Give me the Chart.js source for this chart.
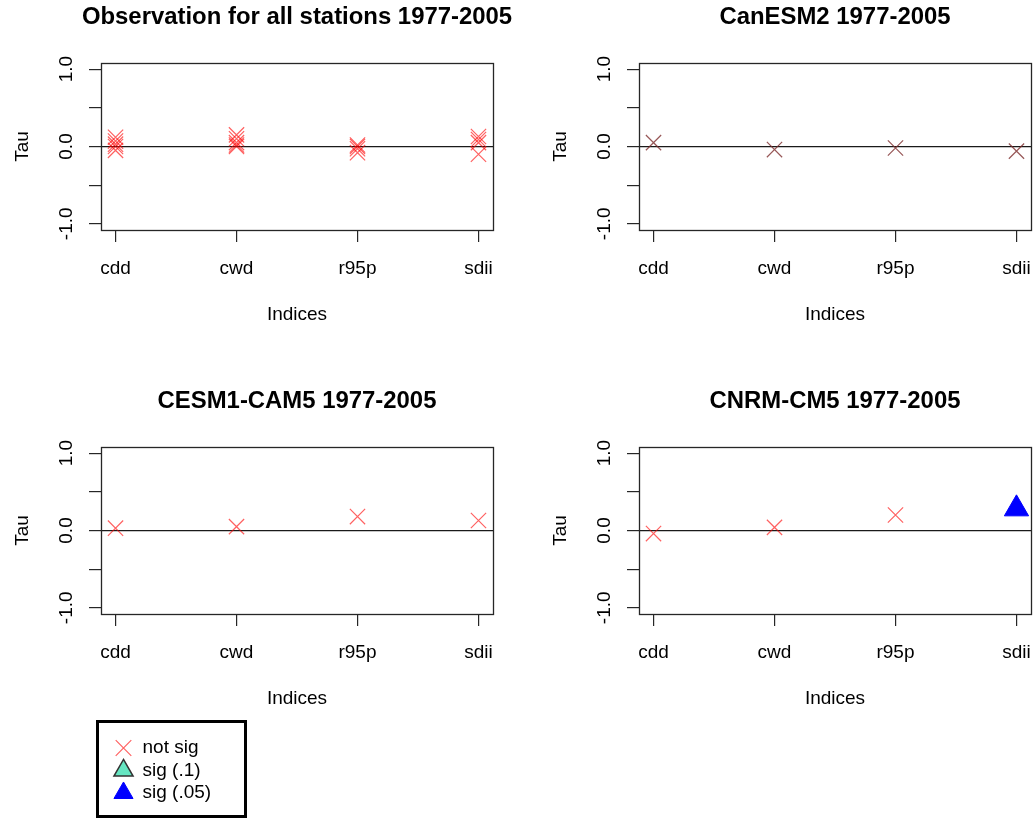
<!DOCTYPE html>
<html>
<head>
<meta charset="utf-8">
<script src="https://cdn.jsdelivr.net/npm/chart.js@4.4.1/dist/chart.umd.min.js"></script>
<style>
html, body { margin: 0; padding: 0; background: #fff; width: 1036px; height: 818px; overflow: hidden; position: relative; }
.p { position: absolute; }
canvas { display: block; }
</style>
</head>
<body>
<div class="p" style="left:0px;top:0px;"><canvas id="c1" width="594" height="340"></canvas></div>
<div class="p" style="left:538px;top:0px;"><canvas id="c2" width="594" height="340"></canvas></div>
<div class="p" style="left:0px;top:384px;"><canvas id="c3" width="594" height="340"></canvas></div>
<div class="p" style="left:538px;top:384px;"><canvas id="c4" width="594" height="340"></canvas></div>
<div class="p" style="left:96px;top:720px;"><canvas id="cl" width="151" height="98"></canvas></div>
<script>
// ---------------- data ----------------
const categories = ['cdd', 'cwd', 'r95p', 'sdii'];
const categoryPositions = [1, 2, 3, 4];
const yTickValues = [-1, -0.5, 0, 0.5, 1];
const yTickLabels = ['-1.0', '', '0.0', '', '1.0'];
const panelTitles = [
  'Observation for all stations 1977-2005',
  'CanESM2 1977-2005',
  'CESM1-CAM5 1977-2005',
  'CNRM-CM5 1977-2005'
];
const xTitle = 'Indices';
const yTitle = 'Tau';

// observations: Kendall tau of each station, per index
const obsCdd  = [0.12, 0.07, 0.03, 0.00, -0.05];
const obsCwd  = [0.15, 0.10, 0.05, 0.02, 0.00];
const obsR95p = [0.02, 0.00, -0.03, -0.08];
const obsSdii = [0.13, 0.09, 0.05, -0.10];

// models: tau per index (cdd, cwd, r95p, sdii) and significance
const canesm2Tau = [0.05, -0.04, -0.02, -0.06];
const canesm2Sig = ['ns', 'ns', 'ns', 'ns'];
const cesm1Tau = [0.03, 0.05, 0.18, 0.13];
const cesm1Sig = ['ns', 'ns', 'ns', 'ns'];
const cnrmTau = [-0.04, 0.04, 0.20, 0.28];
const cnrmSig = ['ns', 'ns', 'ns', 'p05'];

const legendLabels = ['not sig', 'sig (.1)', 'sig (.05)'];
const legendCodes = ['ns', 'p10', 'p05'];

// ---------------- styles ----------------
const FONT = "'Liberation Sans', Arial, Helvetica, sans-serif";
Chart.defaults.font.family = FONT;
Chart.defaults.color = '#000';

const SIG_STYLE = {
  ns:  { pointStyle: 'crossRot', radius: 10.8, border: 'rgba(255,0,0,0.62)', fill: 'rgba(0,0,0,0)', width: 1.2 },
  p10: { pointStyle: 'triangle', radius: 14, border: '#333333', fill: '#66e6c2', width: 1.5 },
  p05: { pointStyle: 'triangle', radius: 14, border: '#0000ff', fill: '#0000ff', width: 1 }
};

function modelPoints(values) {
  return values.map((v, i) => ({ x: categoryPositions[i], y: v }));
}
function obsPoints(lists) {
  const pts = [];
  lists.forEach((list, i) => list.forEach(v => pts.push({ x: categoryPositions[i], y: v })));
  return pts;
}
function styledDataset(points, codes, nsColor) {
  const st = codes.map(c => SIG_STYLE[c]);
  return {
    data: points,
    pointStyle: st.map(s => s.pointStyle),
    pointRadius: st.map(s => s.radius),
    pointBorderColor: st.map((s, i) => (codes[i] === 'ns' && nsColor) ? nsColor : s.border),
    pointBackgroundColor: st.map(s => s.fill),
    pointBorderWidth: st.map(s => s.width),
    showLine: false,
    clip: false
  };
}

const boxPlugin = {
  id: 'plotBox',
  afterDraw(chart) {
    const a = chart.chartArea;
    const ctx = chart.ctx;
    ctx.save();
    ctx.strokeStyle = '#262626';
    ctx.lineWidth = 1.3;
    ctx.strokeRect(Math.round(a.left) + 0.5, Math.round(a.top) + 0.5,
                   Math.round(a.right - a.left), Math.round(a.bottom - a.top));
    ctx.restore();
  }
};

function makePanel(id, title, dataset) {
  return new Chart(document.getElementById(id), {
    type: 'scatter',
    data: { datasets: [dataset] },
    options: {
      responsive: false,
      animation: false,
      events: [],
      layout: { padding: { left: 0, right: 0, top: 0, bottom: 10 } },
      plugins: {
        legend: { display: false },
        tooltip: { enabled: false },
        title: {
          display: true, text: title, color: '#000',
          font: { size: 23.9, weight: 'bold', family: FONT, lineHeight: 1.2 },
          padding: { top: 3.2, bottom: 31.1 }
        }
      },
      scales: {
        x: {
          type: 'linear', min: 0.88, max: 4.12,
          afterBuildTicks: s => { s.ticks = categoryPositions.map(v => ({ value: v })); },
          afterFit: s => { s.height = 100; },
          border: { display: false },
          grid: { drawOnChartArea: false, drawTicks: true, tickLength: 12, tickColor: '#262626', lineWidth: 1.2 },
          ticks: {
            autoSkip: false, maxRotation: 0, padding: 15.4, color: '#000',
            font: { size: 19, family: FONT },
            callback: v => categories[categoryPositions.indexOf(v)]
          },
          title: { display: true, text: xTitle, color: '#000', font: { size: 19, family: FONT }, padding: { top: 0, bottom: 3.6 } }
        },
        y: {
          type: 'linear', min: -1.08, max: 1.08,
          afterBuildTicks: s => { s.ticks = yTickValues.map(v => ({ value: v })); },
          afterFit: s => { s.width = 101; },
          border: { display: false },
          grid: {
            drawOnChartArea: true, drawTicks: true, tickLength: 12,
            tickColor: '#262626', lineWidth: 1.2,
            color: c => (c.tick && c.tick.value === 0) ? '#1a1a1a' : 'rgba(0,0,0,0)'
          },
          ticks: {
            autoSkip: false, minRotation: 90, maxRotation: 90, crossAlign: 'center',
            padding: 5.4, color: '#000', font: { size: 19, family: FONT },
            callback: v => yTickLabels[yTickValues.indexOf(v)]
          },
          title: { display: true, text: yTitle, color: '#000', font: { size: 19, family: FONT }, padding: { top: 11.2, bottom: 0 } }
        },
        // empty right-hand margin so the title centres over the plot region (as R does)
        yMargin: {
          axis: 'y', type: 'linear', position: 'right', display: true,
          ticks: { display: false }, grid: { display: false }, border: { display: false },
          afterFit: s => { s.width = 101; }
        }
      }
    },
    plugins: [boxPlugin]
  });
}

const obsAll = obsPoints([obsCdd, obsCwd, obsR95p, obsSdii]);
makePanel('c1', panelTitles[0], styledDataset(obsAll, obsAll.map(() => 'ns')));
makePanel('c2', panelTitles[1], styledDataset(modelPoints(canesm2Tau), canesm2Sig, 'rgba(125,45,45,0.8)'));
makePanel('c3', panelTitles[2], styledDataset(modelPoints(cesm1Tau), cesm1Sig));
makePanel('c4', panelTitles[3], styledDataset(modelPoints(cnrmTau), cnrmSig));

// ---------------- legend ----------------
const legendBorder = {
  id: 'legendBorder',
  afterDraw(chart) {
    const ctx = chart.ctx;
    ctx.save();
    ctx.strokeStyle = '#000';
    ctx.lineWidth = 3;
    ctx.strokeRect(1.5, 1.5, chart.width - 3, chart.height - 3);
    ctx.restore();
  }
};
const LEGEND_STYLE = {
  ns:  { pointStyle: 'crossRot', border: 'rgba(255,0,0,0.62)', fill: 'rgba(0,0,0,0)', width: 1.2 },
  p10: { pointStyle: 'triangle', border: '#333333', fill: '#66e6c2', width: 1.5 },
  p05: { pointStyle: 'triangle', border: '#0000ff', fill: '#0000ff', width: 1 }
};
new Chart(document.getElementById('cl'), {
  type: 'scatter',
  data: {
    datasets: legendLabels.map((lab, i) => ({
      label: lab,
      data: [],
      pointStyle: LEGEND_STYLE[legendCodes[i]].pointStyle,
      borderColor: LEGEND_STYLE[legendCodes[i]].border,
      backgroundColor: LEGEND_STYLE[legendCodes[i]].fill,
      borderWidth: LEGEND_STYLE[legendCodes[i]].width
    }))
  },
  options: {
    responsive: false,
    animation: false,
    events: [],
    layout: { padding: { left: 14.5, top: 15, right: 0, bottom: 0 } },
    scales: { x: { display: false }, y: { display: false } },
    plugins: {
      tooltip: { enabled: false },
      title: { display: false },
      legend: {
        display: true, position: 'top', align: 'start', maxHeight: 90,
        labels: {
          usePointStyle: true, boxWidth: 19, boxHeight: 15.6, padding: 3.5,
          color: '#000', font: { size: 19, family: FONT },
          generateLabels: chart => chart.data.datasets.map((ds, i) => ({
            text: ds.label, fillStyle: ds.backgroundColor, strokeStyle: ds.borderColor,
            lineWidth: ds.borderWidth, pointStyle: ds.pointStyle, hidden: false,
            datasetIndex: i, fontColor: '#000'
          }))
        }
      }
    }
  },
  plugins: [legendBorder]
});
</script>
</body>
</html>
